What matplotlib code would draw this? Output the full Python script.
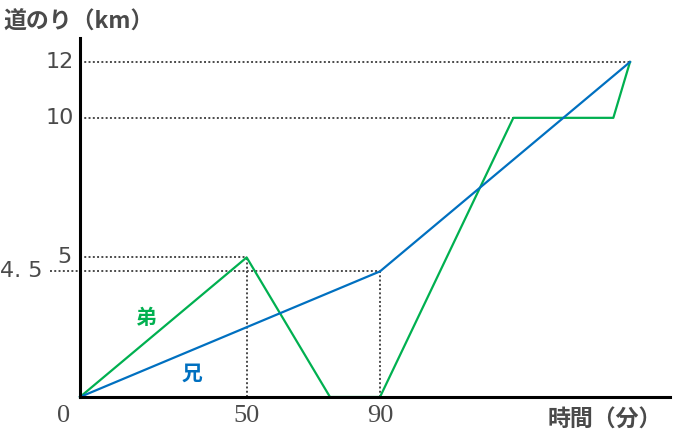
import matplotlib
matplotlib.use("Agg")
import matplotlib.pyplot as plt
from matplotlib.transforms import offset_copy

# data (minutes, km)
ani_t = [0, 90, 165]
ani_d = [0, 4.5, 12]
otouto_t = [0, 50, 75, 90, 130, 160, 165]
otouto_d = [0, 5, 0, 0, 10, 10, 12]

# guide lines: (x end of horizontal, y)
h_guides = [(165, 12), (130, 10), (50, 5), (90, 4.5)]
v_guides = [(50, 5), (90, 4.5)]
x_labels = ["0", "50", "90"]
x_label_pos = [-5, 50, 90]
y_labels = {12: "12", 10: "10", 5: "5", 4.5: "4. 5"}

GREEN = "#00b050"
BLUE = "#0070c0"
GRAY = "#4a4a4a"
jp = ["Noto Sans CJK JP", "DejaVu Sans"]

fig = plt.figure(figsize=(6.8, 4.42), dpi=100)
ax = fig.add_axes([80 / 680, 45 / 442, 590 / 680, 359 / 442])
ax.set_xlim(0, 177)
ax.set_ylim(0, 12.86)
for s in ["top", "right"]:
    ax.spines[s].set_visible(False)
for s in ["left", "bottom"]:
    ax.spines[s].set_linewidth(2.2)
    ax.spines[s].set_color("black")
    ax.spines[s].set_zorder(6)
ax.set_xticks([])
ax.set_yticks([])

dot = dict(color=GRAY, lw=1.4, linestyle=(0, (1, 1.2)), clip_on=False, zorder=1)
for xe, y in h_guides:
    x0 = -9 if y == 4.5 else 0
    ax.plot([x0, xe], [y, y], **dot)
for x, y in v_guides:
    ax.plot([x, x], [0, y], **dot)

ax.plot(otouto_t, otouto_d, color=GREEN, lw=1.6, zorder=3, clip_on=False)
ax.plot(ani_t, ani_d, color=BLUE, lw=1.6, zorder=4, clip_on=False)

# y labels
yt = ax.get_yaxis_transform()
for y, lab in y_labels.items():
    dx = -6
    if y == 4.5:
        dx = -37
    elif y == 5:
        dx = -8
    tr = offset_copy(yt, fig=fig, x=dx, y=0, units="dots")
    ax.text(0, y, lab, transform=tr, ha="right", va="center",
            fontsize=16, color=GRAY, family="DejaVu Sans")

# x labels
xt = ax.get_xaxis_transform()
for x, lab in zip(x_label_pos, x_labels):
    tr = offset_copy(xt, fig=fig, x=0, y=-19, units="dots")
    ax.text(x, 0, lab, transform=tr, ha="center", va="center",
            fontsize=19, color=GRAY, family="Liberation Serif")

fig.text(3 / 680, 1 - 22 / 442, "道のり（km）", ha="left", va="center",
         fontsize=16.5, color=GRAY, family=jp, fontweight="bold")
fig.text(605 / 680, 1 - 420 / 442, "時間（分）", ha="center", va="center",
         fontsize=16.5, color=GRAY, family=jp, fontweight="bold")
fig.text(146 / 680, 1 - 318 / 442, "弟", ha="center", va="center",
         fontsize=15, color=GREEN, family=jp, fontweight="bold")
fig.text(192 / 680, 1 - 373 / 442, "兄", ha="center", va="center",
         fontsize=15, color=BLUE, family=jp, fontweight="bold")

fig.savefig("out.png", dpi=100)
